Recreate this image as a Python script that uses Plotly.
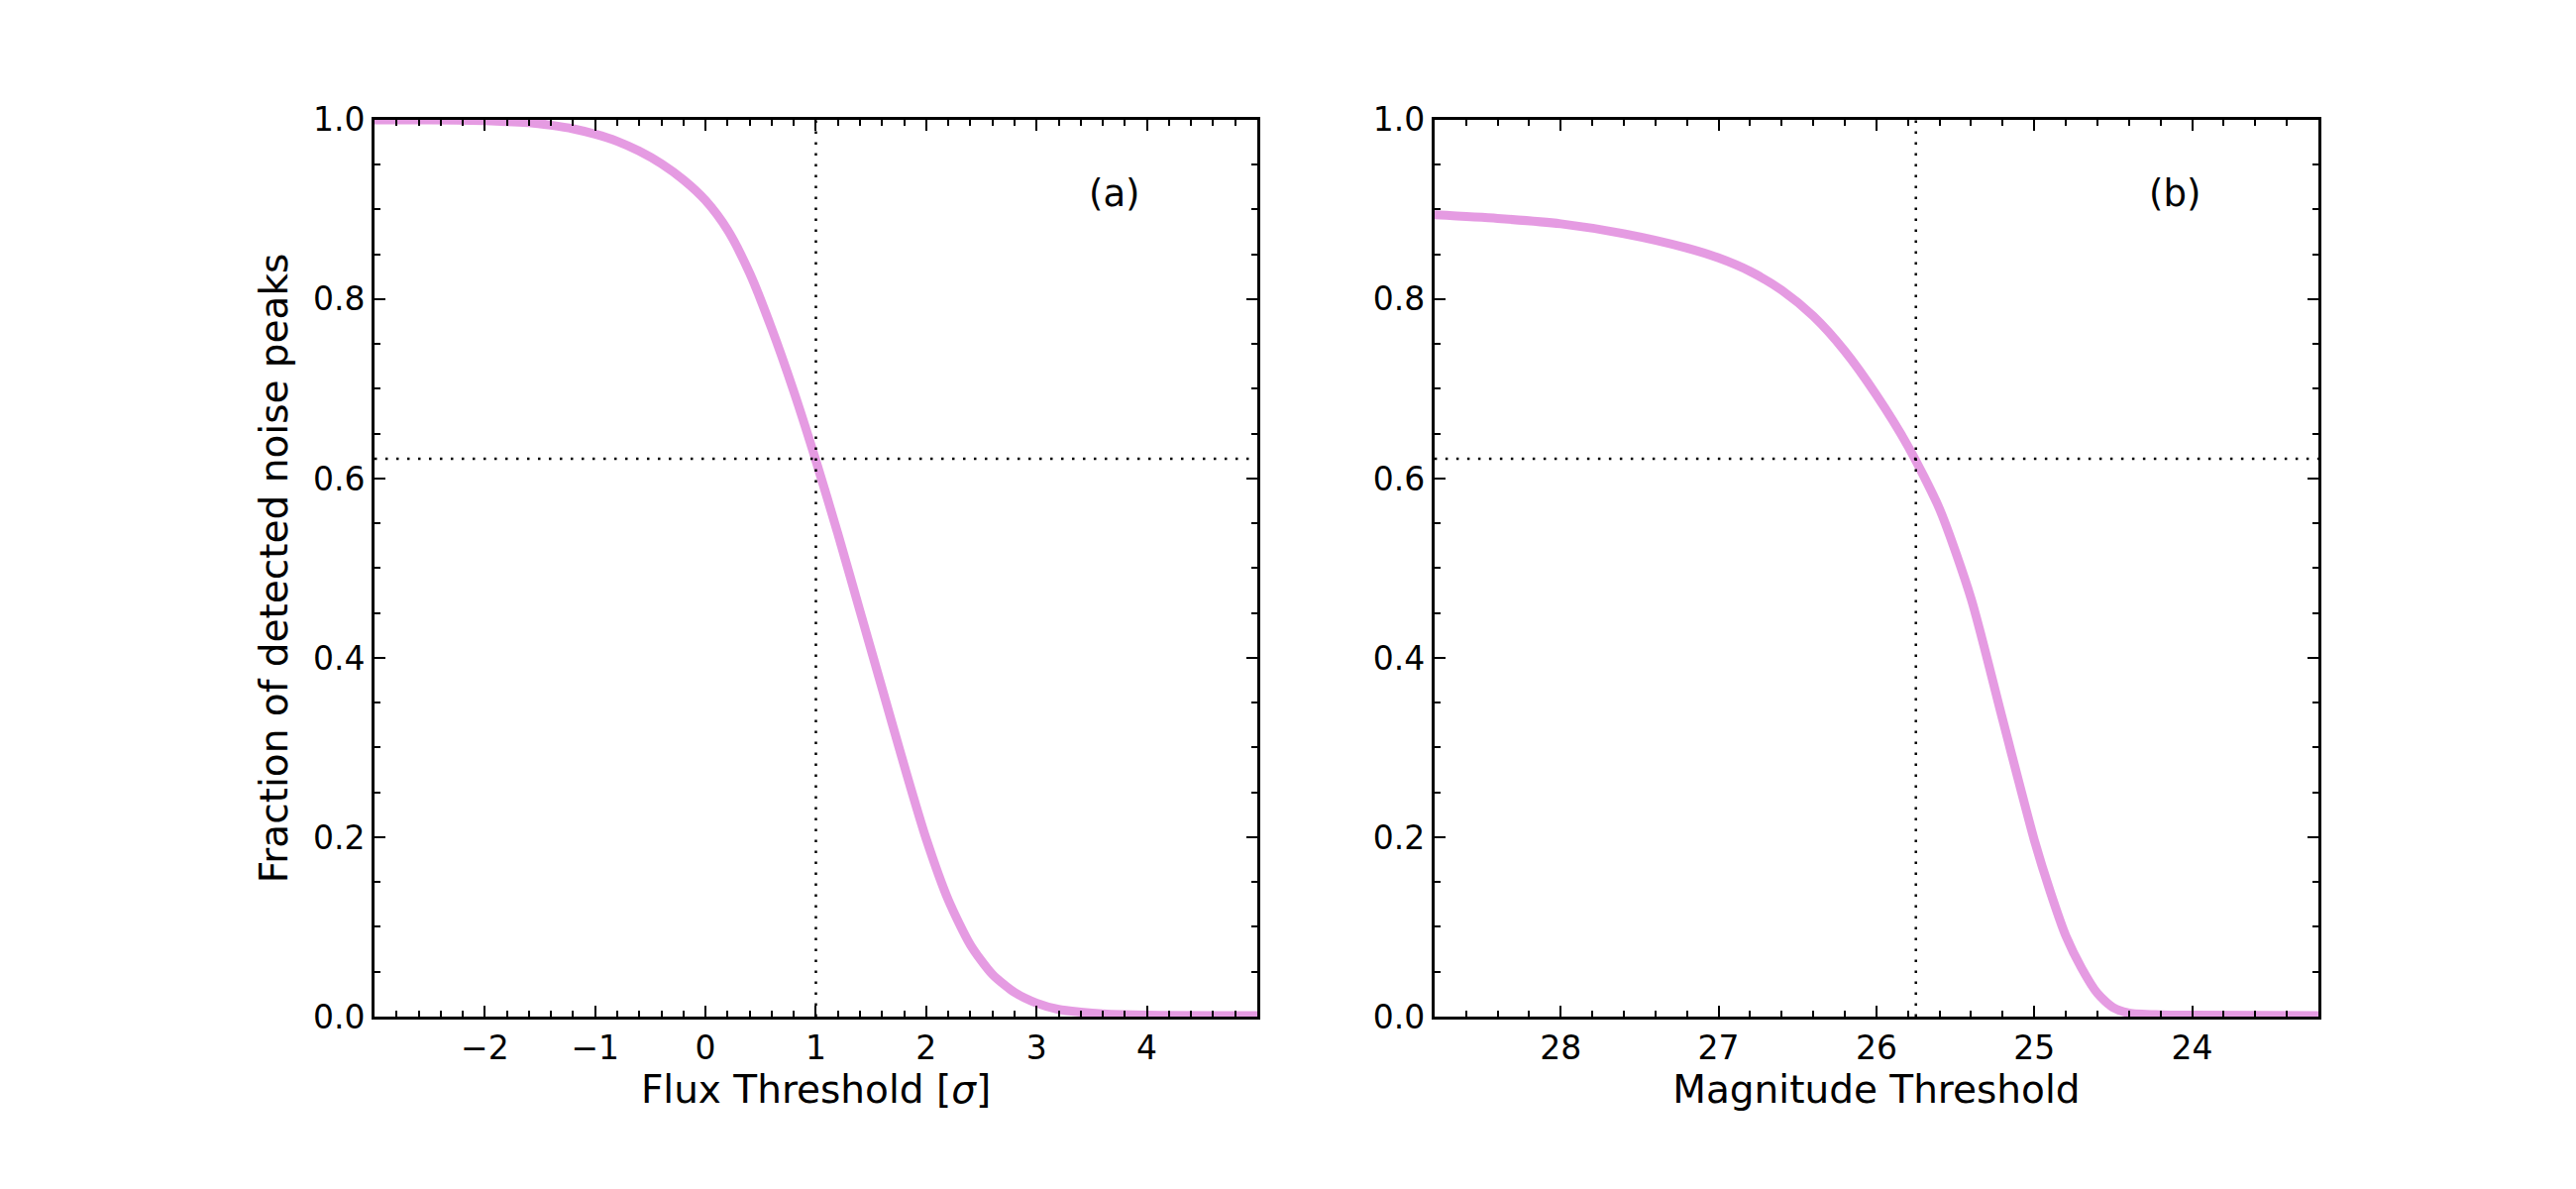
import plotly.graph_objects as go
from plotly.subplots import make_subplots

# values
flux_threshold = [-3.0, -2.5, -2.0, -1.8, -1.6, -1.4, -1.2, -1.0, -0.8, -0.6, -0.4, -0.2,
                  0.0, 0.2, 0.4, 0.6, 0.8, 1.0, 1.2, 1.4, 1.6, 1.8, 2.0, 2.2, 2.4,
                  2.6, 2.8, 3.0, 3.2, 3.4, 3.6, 4.0, 5.0]
frac_flux = [1.000, 1.000, 0.999, 0.998, 0.997, 0.994, 0.990, 0.984, 0.976, 0.965, 0.951, 0.933,
             0.910, 0.877, 0.829, 0.767, 0.697, 0.620, 0.538, 0.452, 0.366, 0.280, 0.198,
             0.130, 0.080, 0.047, 0.027, 0.015, 0.008, 0.005, 0.003, 0.0015, 0.001]

mag_threshold = [28.8, 28.4, 28.0, 27.6, 27.2, 27.0, 26.8, 26.6, 26.4, 26.2, 26.0, 25.8,
                 25.6, 25.4, 25.2, 25.0, 24.9, 24.8, 24.7, 24.6, 24.5, 24.4, 24.2, 24.0, 23.2]
frac_mag = [0.894, 0.890, 0.884, 0.873, 0.857, 0.846, 0.831, 0.810, 0.781, 0.742, 0.693, 0.636,
            0.566, 0.466, 0.331, 0.197, 0.140, 0.090, 0.054, 0.026, 0.010, 0.004, 0.002,
            0.0015, 0.001]

frac_level = 0.622
flux_cut = 1.0
mag_cut = 25.75

flux_ticks = [-2, -1, 0, 1, 2, 3, 4]
mag_ticks = [28, 27, 26, 25, 24]
frac_ticks = [0.0, 0.2, 0.4, 0.6, 0.8, 1.0]

font = "DejaVu Sans"
curve_color = "rgba(218,112,214,0.7)"
dots = "2.5px,8.5px"

fig = make_subplots(rows=1, cols=2)

fig.add_trace(go.Scatter(x=flux_threshold, y=frac_flux, mode="lines",
                         line=dict(color=curve_color, width=9, shape="spline", smoothing=0.7)),
              row=1, col=1)
fig.add_trace(go.Scatter(x=mag_threshold, y=frac_mag, mode="lines",
                         line=dict(color=curve_color, width=9, shape="spline", smoothing=0.7)),
              row=1, col=2)

for xr, yr, xcut in [("x", "y", flux_cut), ("x2", "y2", mag_cut)]:
    fig.add_shape(type="line", xref=xr + " domain", yref=yr, x0=0, x1=1,
                  y0=frac_level, y1=frac_level, line=dict(color="black", width=2.5, dash=dots))
    fig.add_shape(type="line", xref=xr, yref=yr + " domain", x0=xcut, x1=xcut,
                  y0=0, y1=1, line=dict(color="black", width=2.5, dash=dots))

for label, xr in [("(a)", "x domain"), ("(b)", "x2 domain")]:
    fig.add_annotation(text=label, xref=xr, yref="y domain", x=0.838, y=0.918,
                       xanchor="center", yanchor="middle", showarrow=False,
                       font=dict(family=font, size=37, color="black"))

axis_style = dict(showline=True, linewidth=3, linecolor="black", mirror="ticks",
                  ticks="inside", ticklen=11, tickwidth=1.5, tickcolor="black",
                  showgrid=False, zeroline=False, automargin=False,
                  tickfont=dict(family=font, size=33, color="black"),
                  minor=dict(ticks="inside", ticklen=6, tickwidth=1.5, tickcolor="black",
                             showgrid=False))

fig.update_xaxes(axis_style)
fig.update_yaxes(axis_style)

# page body has an 8px margin, so the domains are nudged up and left
fig.update_xaxes(row=1, col=1, domain=[0.1423, 0.4850], range=[-3, 5],
                 tickvals=flux_ticks, minor_dtick=0.2, minor_tick0=0,
                 title=dict(text="Flux Threshold [<i>σ</i>]", standoff=8,
                            font=dict(family=font, size=39, color="black")))
fig.update_xaxes(row=1, col=2, domain=[0.5538, 0.8969], range=[28.8, 23.2],
                 tickvals=mag_ticks, minor_dtick=0.2, minor_tick0=0,
                 title=dict(text="Magnitude Threshold", standoff=8,
                            font=dict(family=font, size=39, color="black")))
fig.update_yaxes(domain=[0.1517, 0.9059], range=[0, 1], tickvals=frac_ticks,
                 tickformat=".1f", minor_dtick=0.05, minor_tick0=0)
fig.update_yaxes(row=1, col=1,
                 title=dict(text="Fraction of detected noise peaks", standoff=14,
                            font=dict(family=font, size=39, color="black")))

fig.update_layout(width=2600, height=1200, margin=dict(l=0, r=0, t=0, b=0),
                  showlegend=False, plot_bgcolor="white", paper_bgcolor="white",
                  font=dict(family=font, color="black"))

fig.write_html("out.html")
